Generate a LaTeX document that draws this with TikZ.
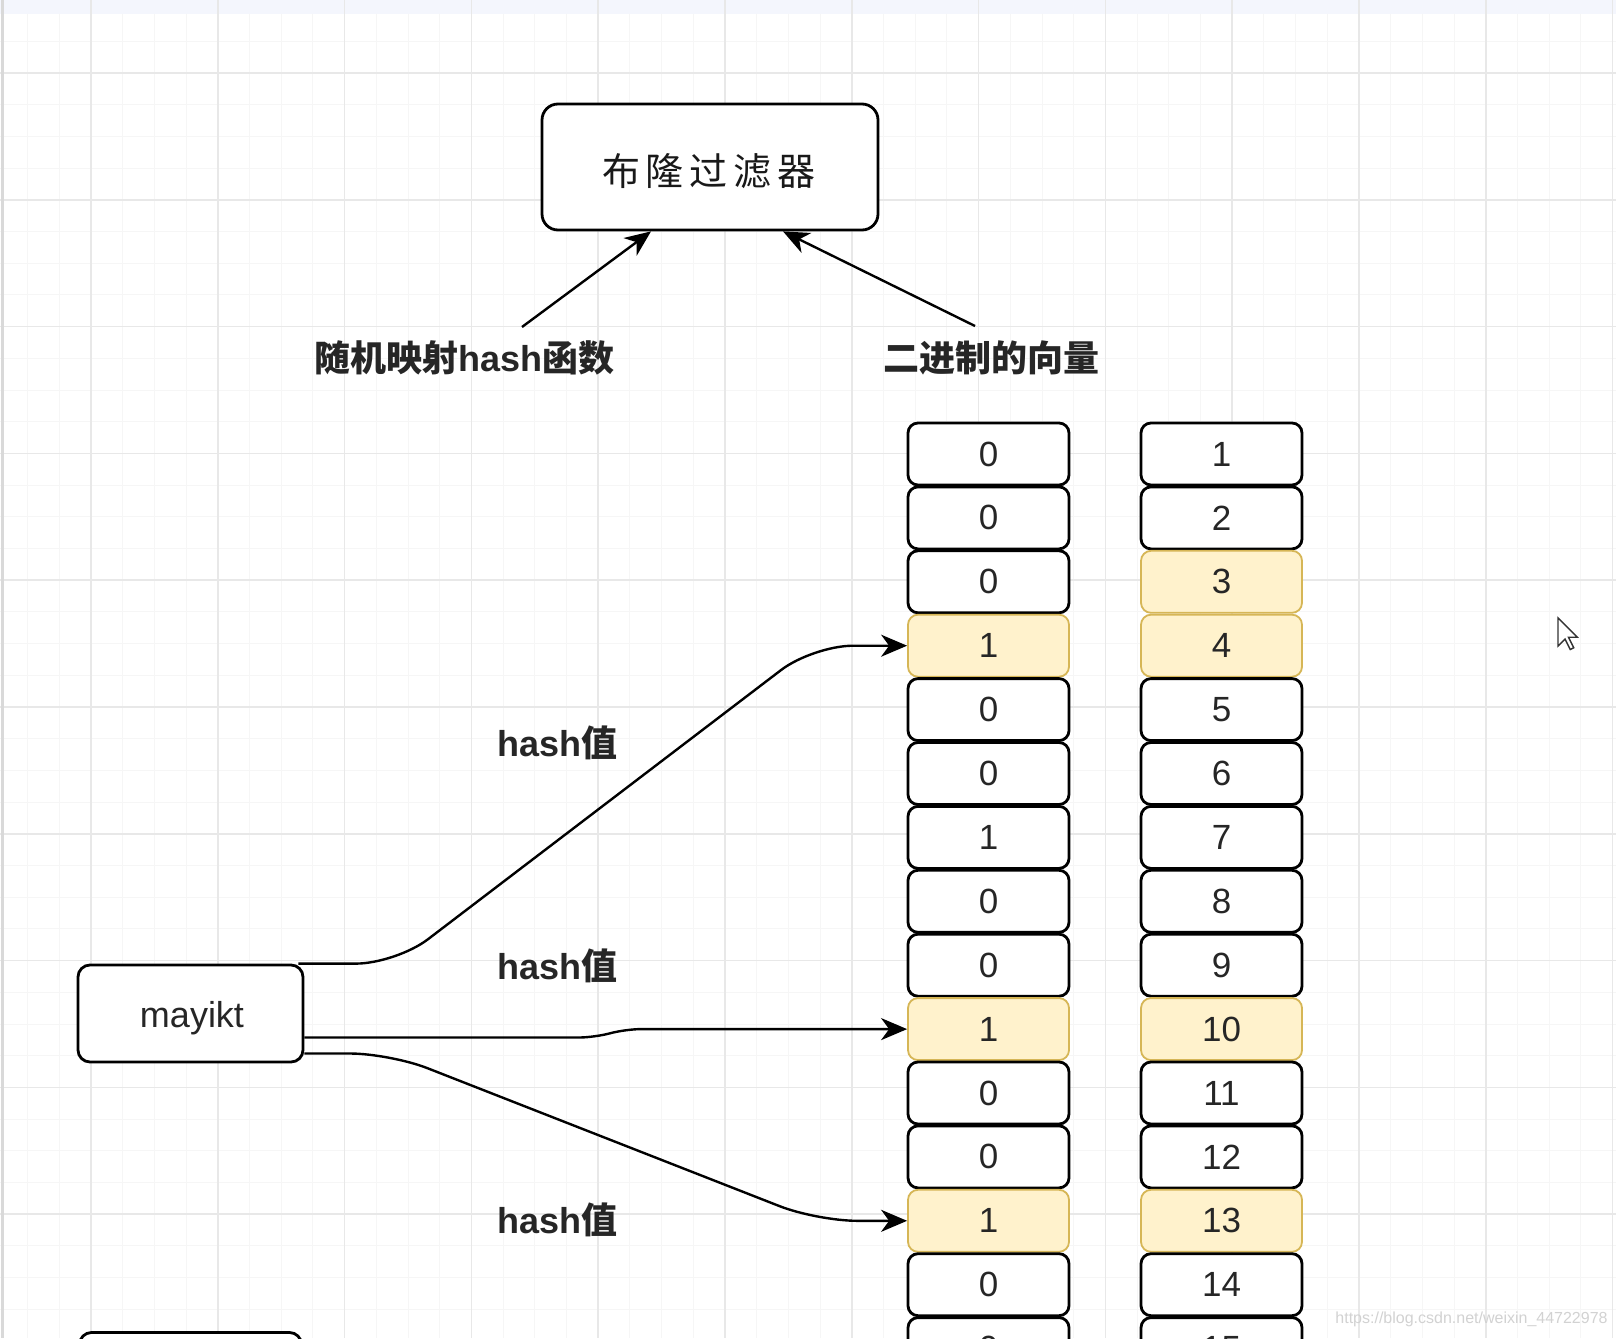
\documentclass[tikz,border=0pt]{standalone}
\usepackage{fontspec}
\setmainfont{Liberation Sans}
\newfontfamily\cjk{Noto Sans CJK SC}
\usetikzlibrary{arrows.meta,calc}
\definecolor{ylfill}{HTML}{FFF2CC}
\definecolor{yldraw}{HTML}{D6B656}
\definecolor{gridmaj}{HTML}{E8E8E8}
\definecolor{gridmin}{HTML}{F6F6F6}
\definecolor{topband}{HTML}{F4F6FD}
\tikzset{
  bitbox/.style={draw=black, line width=1.4pt, rounded corners=5pt, fill=white,
    minimum width=80.5pt, minimum height=31pt, inner sep=0pt,
    font=\fontsize{17.5}{20}\selectfont, text=black!85},
  hitbox/.style={bitbox, fill=ylfill, draw=yldraw, line width=0.9pt},
  bigbox/.style={draw=black, line width=1.4pt, rounded corners=8pt, fill=white, inner sep=0pt},
  conn/.style={line width=1.2pt, -{Stealth[length=13pt,width=11pt,inset=4pt]}},
  lbl/.style={inner sep=0pt, font=\fontsize{18}{20}\selectfont\bfseries, text=black!85},
}
\begin{document}
\begin{tikzpicture}[x=0.5pt,y=-0.5pt]
\useasboundingbox (0,0) rectangle (1616,1338);
\clip (0,0) rectangle (1616,1338);
\fill[white] (0,0) rectangle (1616,1338);
\fill[topband] (0,0) rectangle (1616,14);
% minor grid
\foreach \i in {-2,...,48} {\draw[gridmin, line width=0.5pt] ({91+31.7*\i},14) -- ({91+31.7*\i},1338);}
\foreach \i in {-1,...,41} {\draw[gridmin, line width=0.5pt] (0,{73+31.7*\i}) -- (1616,{73+31.7*\i});}
% major grid
\foreach \i in {0,...,12} {\draw[gridmaj, line width=0.8pt] ({91+126.8*\i},0) -- ({91+126.8*\i},1338);}
\foreach \i in {0,...,10} {\draw[gridmaj, line width=0.8pt] (0,{73+126.8*\i}) -- (1616,{73+126.8*\i});}
\draw[gray!30, line width=1.5pt] (2,0) -- (2,1338);

% title box
\node[bigbox, minimum width=168pt, minimum height=63pt] (bf) at (710,167) {};
\node[inner sep=0pt, font=\cjk\fontsize{19}{22}\selectfont, text=black!90] (bft) at (709,171)
  {布\hspace{3pt}隆\hspace{3pt}过\hspace{3pt}滤\hspace{3pt}器};

% labels
\node[lbl] (lab1) at (464.5,358) {{\cjk 随机映射}hash{\cjk 函数}};
\node[lbl] (lab2) at (991.5,358) {\cjk 二进制的向量};

% bit vector
\foreach \v/\st [count=\i from 0] in {0/bitbox,0/bitbox,0/bitbox,1/hitbox,0/bitbox,0/bitbox,1/bitbox,0/bitbox,0/bitbox,1/hitbox,0/bitbox,0/bitbox,1/hitbox,0/bitbox,0/bitbox} {
  \node[\st] (L\i) at (988.5,{454+63.9*\i}) {\v};
}
\foreach \v/\st [count=\i from 0] in {1/bitbox,2/bitbox,3/hitbox,4/hitbox,5/bitbox,6/bitbox,7/bitbox,8/bitbox,9/bitbox,10/hitbox,11/bitbox,12/bitbox,13/hitbox,14/bitbox,15/bitbox} {
  \node[\st] (R\i) at (1221.5,{454+63.9*\i}) {\v};
}

% mayikt
\node[bigbox, rounded corners=6pt, minimum width=112.5pt, minimum height=48.5pt] (m) at (190.5,1013.5) {};
\node[inner sep=0pt, font=\fontsize{18}{20}\selectfont, text=black!85] (mt) at (192,1018) {mayikt};
\node[bigbox, rounded corners=6pt, minimum width=111pt, minimum height=48.5pt] (m2) at (190.5,1381) {};

% connectors
\coordinate (s1) at (522,327);
\coordinate (s2) at (975,326);
\draw[conn] (s1) -- ($(bf.south)+(-59,0)$);
\draw[conn] (s2) -- ($(bf.south)+(73,0)$);

\draw[conn, rounded corners=20pt] ($(m.north east)+(-6,0)$) -- (396,963.6) -- (813,645.7) -- (L3.west);
\draw[conn, rounded corners=8pt] ($(m.east)+(0,24)$) -- (595,1037.5) -- (625,1029.1) -- (L9.west);
\draw[conn, rounded corners=20pt] ($(m.east)+(0,40)$) -- (390,1053.5) -- (817,1220.8) -- (L12.west);

% hash labels
\node[lbl] (h1) at (557.5,743) {hash{\cjk 值}};
\node[lbl] (h2) at (557.5,966) {hash{\cjk 值}};
\node[lbl] (h3) at (557.5,1220) {hash{\cjk 值}};

% cursor
\filldraw[fill=white, draw=black!80, line width=0.7pt] (1558,618) -- ++(0,28) -- ++(7,-7)
  -- ++(5.25,10.5) -- ++(3.5,-1.75) -- ++(-5.25,-10.5) -- ++(8.75,0) -- cycle;

% watermark
\node[anchor=west, inner sep=0pt, text=gray!35, font=\fontsize{8}{10}\selectfont] (wm) at (1335,1319)
  {https://blog.csdn.net/weixin\_44722978};
\end{tikzpicture}
\end{document}
